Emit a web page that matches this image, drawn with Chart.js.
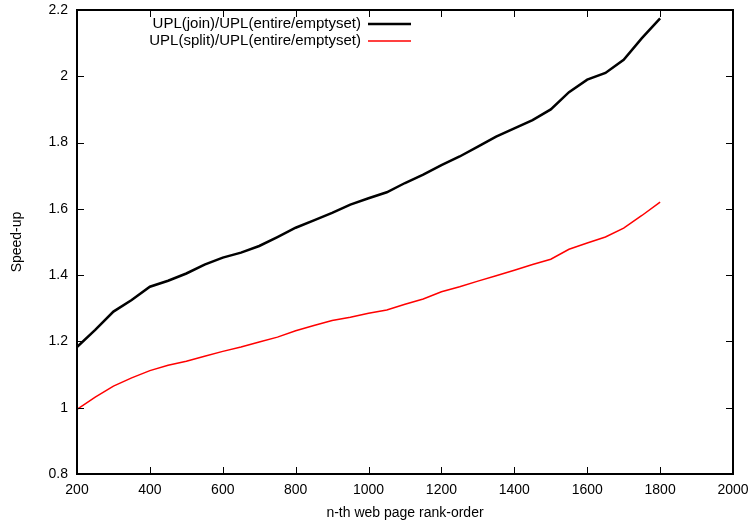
<!DOCTYPE html>
<html>
<head>
<meta charset="utf-8">
<script src="https://cdn.jsdelivr.net/npm/chart.js@4"></script>
<style>
  html, body { margin: 0; padding: 0; background: #fff; }
  #wrap { width: 755px; height: 525px; }
</style>
</head>
<body>
<div id="wrap"><canvas id="myChart" width="755" height="525"></canvas></div>
<script>
// n-th web page rank-order
const ranks = [200, 250, 300, 350, 400, 450, 500, 550, 600, 650, 700, 750, 800, 850, 900, 950,
    1000, 1050, 1100, 1150, 1200, 1250, 1300, 1350, 1400, 1450, 1500, 1550, 1600, 1650, 1700, 1750, 1800];

// UPL(join)/UPL(entire/emptyset)
const joinSpeedup = [1.183, 1.235, 1.290, 1.325, 1.365, 1.383, 1.405, 1.432, 1.453, 1.468, 1.488, 1.515,
    1.543, 1.565, 1.588, 1.613, 1.632, 1.650, 1.678, 1.703, 1.732, 1.758, 1.788, 1.818, 1.843, 1.868,
    1.900, 1.952, 1.990, 2.010, 2.050, 2.115, 2.175];

// UPL(split)/UPL(entire/emptyset)
const splitSpeedup = [0.995, 1.032, 1.065, 1.090, 1.112, 1.128, 1.140, 1.155, 1.170, 1.183, 1.198, 1.213,
    1.232, 1.248, 1.263, 1.273, 1.285, 1.295, 1.312, 1.328, 1.350, 1.365, 1.382, 1.398, 1.415, 1.432,
    1.448, 1.478, 1.497, 1.515, 1.542, 1.580, 1.620];

const seriesLabels = ['UPL(join)/UPL(entire/emptyset)', 'UPL(split)/UPL(entire/emptyset)'];
const xTicks = [200, 400, 600, 800, 1000, 1200, 1400, 1600, 1800, 2000];
const yTicks = [0.8, 1, 1.2, 1.4, 1.6, 1.8, 2, 2.2];

const FONT = 'Liberation Sans, Arial, Helvetica, sans-serif';

// gnuplot style frame with inward (mirrored) ticks
const framePlugin = {
    id: 'frame',
    afterDraw(chart) {
        const ctx = chart.ctx;
        const a = chart.chartArea;
        const xs = chart.scales.x, ys = chart.scales.y;
        ctx.save();
        ctx.strokeStyle = '#000';
        ctx.lineWidth = 1;
        const len = 7;
        ctx.beginPath();
        xTicks.forEach(v => {
            const px = Math.round(xs.getPixelForValue(v)) + 0.5;
            ctx.moveTo(px, a.bottom); ctx.lineTo(px, a.bottom - len);
            ctx.moveTo(px, a.top); ctx.lineTo(px, a.top + len);
        });
        yTicks.forEach(v => {
            const py = Math.round(ys.getPixelForValue(v)) + 0.5;
            ctx.moveTo(a.left, py); ctx.lineTo(a.left + len, py);
            ctx.moveTo(a.right, py); ctx.lineTo(a.right - len, py);
        });
        ctx.stroke();
        ctx.lineWidth = 2;
        ctx.strokeRect(a.left, a.top, a.right - a.left, a.bottom - a.top);
        ctx.restore();
    }
};

// key drawn inside the plot, text right-aligned with a line sample
const keyPlugin = {
    id: 'key',
    afterDraw(chart) {
        const ctx = chart.ctx;
        ctx.save();
        ctx.font = '15px ' + FONT;
        ctx.textAlign = 'right';
        ctx.textBaseline = 'middle';
        chart.data.datasets.forEach((ds, i) => {
            const y = 24 + i * 17;
            ctx.fillStyle = '#000';
            ctx.fillText(ds.label, 361, y);
            ctx.strokeStyle = ds.borderColor;
            ctx.lineWidth = ds.borderWidth;
            ctx.beginPath();
            ctx.moveTo(368, y);
            ctx.lineTo(411, y);
            ctx.stroke();
        });
        ctx.restore();
    }
};

const data = {
    labels: ranks,
    datasets: [{
        label: seriesLabels[0],
        data: ranks.map((r, i) => ({ x: r, y: joinSpeedup[i] })),
        borderColor: '#000000',
        borderWidth: 2.5,
        pointRadius: 0,
        tension: 0,
        fill: false
    }, {
        label: seriesLabels[1],
        data: ranks.map((r, i) => ({ x: r, y: splitSpeedup[i] })),
        borderColor: '#ff0000',
        borderWidth: 1.5,
        pointRadius: 0,
        tension: 0,
        fill: false
    }]
};

const config = {
    type: 'line',
    data: data,
    options: {
        responsive: false,
        animation: false,
        layout: { padding: { top: 10, right: 22, left: 9, bottom: 0 } },
        plugins: {
            legend: { display: false },
            tooltip: { enabled: false }
        },
        scales: {
            x: {
                type: 'linear',
                min: 200,
                max: 2000,
                afterBuildTicks: s => { s.ticks = xTicks.map(v => ({ value: v })); },
                afterFit: s => { s.height = 51; s.paddingLeft = 0; s.paddingRight = 0; },
                grid: { display: false, drawTicks: false },
                border: { display: false },
                ticks: {
                    color: '#000',
                    font: { family: FONT, size: 14 },
                    padding: 8,
                    maxRotation: 0,
                    callback: v => String(v)
                },
                title: {
                    display: true,
                    text: 'n-th web page rank-order',
                    color: '#000',
                    font: { family: FONT, size: 14 },
                    padding: { top: 0, bottom: 3 }
                }
            },
            y: {
                type: 'linear',
                min: 0.8,
                max: 2.2,
                afterBuildTicks: s => { s.ticks = yTicks.map(v => ({ value: v })); },
                afterFit: s => { s.width = 68; s.paddingTop = 0; s.paddingBottom = 0; },
                grid: { display: false, drawTicks: false },
                border: { display: false },
                ticks: {
                    color: '#000',
                    font: { family: FONT, size: 14 },
                    padding: 9,
                    callback: v => String(Math.round(v * 10) / 10)
                },
                title: {
                    display: true,
                    text: 'Speed-up',
                    color: '#000',
                    font: { family: FONT, size: 14 },
                    padding: { top: 0, bottom: 0 }
                }
            }
        }
    },
    plugins: [framePlugin, keyPlugin]
};

const myChart = new Chart(document.getElementById('myChart'), config);
</script>
</body>
</html>
